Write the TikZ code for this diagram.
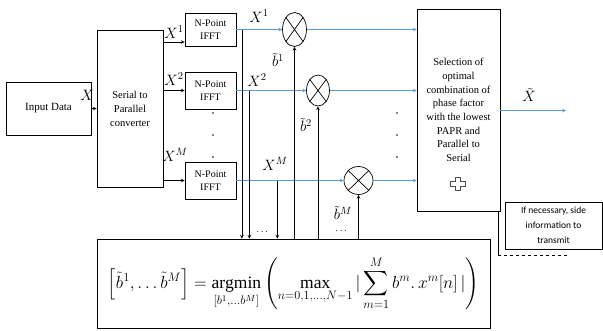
\RequirePackage{fix-cm}
\documentclass[tikz,border=0pt]{standalone}
\usepackage{fontspec}
\usepackage{amsmath}
\setmainfont{Liberation Serif}
\newfontfamily\sidefont{Carlito}
\usetikzlibrary{shapes.geometric}
\definecolor{sigblue}{RGB}{91,155,213}

\tikzset{
  blk/.style={draw, line width=0.7pt, align=center, inner sep=1pt},
  mult/.style={draw, ellipse, line width=0.7pt, inner sep=0pt},
  sig/.style={->, sigblue, line width=0.7pt},
  tap/.style={->, line width=0.7pt},
  lbl/.style={inner sep=0pt, font=\fontsize{15}{15}\selectfont},
}

\begin{document}
\begin{tikzpicture}[>=stealth, x=1pt, y=-1pt, line width=0.7pt]
\useasboundingbox (0,0) rectangle (603,330);
% blocks
\node[blk, minimum width=85pt, minimum height=53pt, font=\fontsize{11}{13}\selectfont] (input) at (48.5,108.5) {Input Data};
\node[blk, minimum width=66pt, minimum height=157pt, font=\fontsize{10.5}{14}\selectfont] (sp) at (130,108.5) {Serial to\\Parallel\\converter};
\node[blk, minimum width=51pt, minimum height=33pt, font=\fontsize{10}{13}\selectfont] (fft1) at (210.5,29.5) {N-Point\\IFFT};
\node[blk, minimum width=51pt, minimum height=37pt, font=\fontsize{10}{13}\selectfont] (fft2) at (210.5,90.5) {N-Point\\IFFT};
\node[blk, minimum width=51pt, minimum height=37pt, font=\fontsize{10}{13}\selectfont] (fft3) at (210.5,180.5) {N-Point\\IFFT};
\node[blk, minimum width=83pt, minimum height=202pt, font=\fontsize{10.5}{13.7}\selectfont] (sel) at (458.5,110) {Selection of\\optimal\\combination of\\phase factor\\with the lowest\\PAPR and\\Parallel to\\Serial};
\node[blk, minimum width=393pt, minimum height=89pt, font=\fontsize{17.5}{20}\selectfont] (form) at (293.5,283.5)
  {$\displaystyle \left[\tilde{b}^1,\ldots\tilde{b}^M\right]=\operatorname*{argmin}_{[b^1,\ldots b^M]}\left(\max_{n=0,1,\ldots,N-1}|\sum_{m=1}^{M}b^m.\,x^m[n]\,|\right)$};
\node[blk, minimum width=97pt, minimum height=47pt, font=\sidefont\fontsize{9.5}{15}\selectfont] (side) at (553.5,225.5) {If necessary, side\\information to\\transmit};

% multipliers
\node[mult, minimum width=24pt, minimum height=34pt] (m1) at (294.5,29.5) {};
\node[mult, minimum width=23pt, minimum height=31pt] (m2) at (318,90.5) {};
\node[mult, minimum width=29pt, minimum height=28pt] (m3) at (358.5,180.5) {};
\foreach \m in {m1,m2,m3}
  \draw (\m.north east) -- (\m.south west) (\m.north west) -- (\m.south east);

% input side
\draw[->] (input) -- (sp);
\coordinate (in1) at ([yshift=-12.5pt]fft1.west);
\draw[->] (sp.east |- in1) -- (in1);
\draw[->] (sp.east |- fft2.west) -- (fft2.west);
\draw[->] (sp.east |- fft3.west) -- (fft3.west);

% signal paths
\draw[sig] (fft1) -- (m1);
\draw[sig] (fft2) -- (m2);
\draw[sig] (fft3) -- (m3);
\draw[sig] (m1) -- (m1 -| sel.west);
\draw[sig] (m2) -- (m2 -| sel.west);
\draw[sig] (m3) -- (m3 -| sel.west);
\coordinate (out) at (566,110.5);
\draw[sig] (sel.east |- out) -- (out);

% taps down to the search
\coordinate (t1) at ([xshift=5.5pt]fft1.east);
\coordinate (t2) at ([xshift=13pt]fft2.east);
\coordinate (t3) at ([xshift=41pt]fft3.east);
\foreach \t in {t1,t2,t3}
  \draw[tap] (\t) -- (\t |- form.north);
\foreach \m in {m1,m2,m3}
  \draw[tap] (\m.south |- form.north) -- (\m.south);

% side information
\coordinate (lead) at (567,255);
\draw ([xshift=-2pt]sel.south east) -- ([xshift=-2pt]sel.south east |- lead);
\draw[dashed, line width=0.5pt] ([xshift=-2pt]sel.south east |- lead) -- (lead);

% plus mark
\draw[line width=0.5pt, black!70] (455,177) -- (460,177) -- (460,181) -- (465,181) -- (465,186) -- (460,186) -- (460,190) -- (455,190) -- (455,186) -- (450,186) -- (450,181) -- (455,181) -- cycle;

% dots
\foreach \y in {113,135,157}{
  \fill (213,\y) circle (0.8pt);
  \fill (397,\y) circle (0.8pt);
}
\node[inner sep=0pt] (dtap) at (263,232) {$\cdots$};
\node[inner sep=0pt] (dmul) at (342,231) {$\cdots$};

% labels
\node[lbl] (lx) at (87,95) {$X$};
\node[lbl] (lx1) at (174,32) {$X^1$};
\node[lbl] (lx2) at (174,79) {$X^2$};
\node[lbl] (lxm) at (175,155) {$X^M$};
\node[lbl] (ly1) at (259,16) {$X^1$};
\node[lbl] (ly2) at (257,80) {$X^2$};
\node[lbl] (lym) at (275,164) {$X^M$};
\node[lbl] (lb1) at (278,60) {$\tilde{b}^1$};
\node[lbl] (lb2) at (306,125) {$\tilde{b}^2$};
\node[lbl] (lbm) at (343,213) {$\tilde{b}^M$};
\node[lbl] (lout) at (529,95) {$\tilde{X}$};
\end{tikzpicture}
\end{document}
